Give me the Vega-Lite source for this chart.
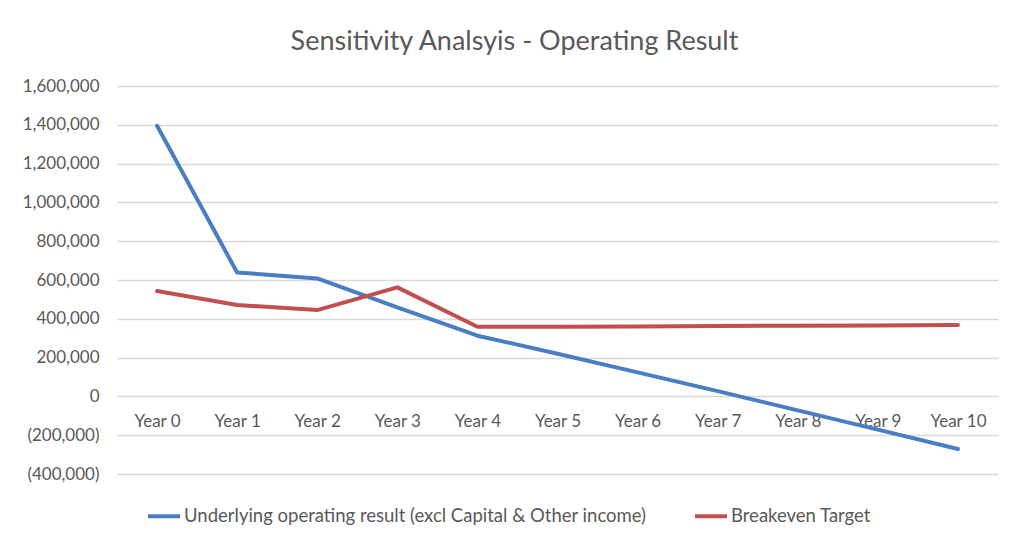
{
  "$schema": "https://vega.github.io/schema/vega-lite/v6.json",
  "width": 881,
  "height": 388,
  "autosize": "none",
  "padding": {"left": 117, "top": 86, "right": 14, "bottom": 67},
  "background": "white",
  "config": {
    "font": "Lato",
    "view": {"stroke": null}
  },
  "title": {
    "text": "Sensitivity Analsyis - Operating Result",
    "fontSize": 27,
    "font": "Lato",
    "fontWeight": "normal",
    "color": "#595959",
    "anchor": "middle",
    "dx": -43,
    "offset": 21
  },
  "data": {
    "values": [
      {"year": "Year 0", "series": "Underlying operating result (excl Capital & Other income)", "value": 1395000},
      {"year": "Year 1", "series": "Underlying operating result (excl Capital & Other income)", "value": 639000},
      {"year": "Year 2", "series": "Underlying operating result (excl Capital & Other income)", "value": 608000},
      {"year": "Year 3", "series": "Underlying operating result (excl Capital & Other income)", "value": 459000},
      {"year": "Year 4", "series": "Underlying operating result (excl Capital & Other income)", "value": 313000},
      {"year": "Year 5", "series": "Underlying operating result (excl Capital & Other income)", "value": 220000},
      {"year": "Year 6", "series": "Underlying operating result (excl Capital & Other income)", "value": 124000},
      {"year": "Year 7", "series": "Underlying operating result (excl Capital & Other income)", "value": 27000},
      {"year": "Year 8", "series": "Underlying operating result (excl Capital & Other income)", "value": -72000},
      {"year": "Year 9", "series": "Underlying operating result (excl Capital & Other income)", "value": -171000},
      {"year": "Year 10", "series": "Underlying operating result (excl Capital & Other income)", "value": -271000},
      {"year": "Year 0", "series": "Breakeven Target", "value": 543000},
      {"year": "Year 1", "series": "Breakeven Target", "value": 471000},
      {"year": "Year 2", "series": "Breakeven Target", "value": 445000},
      {"year": "Year 3", "series": "Breakeven Target", "value": 562000},
      {"year": "Year 4", "series": "Breakeven Target", "value": 359000},
      {"year": "Year 5", "series": "Breakeven Target", "value": 359000},
      {"year": "Year 6", "series": "Breakeven Target", "value": 360000},
      {"year": "Year 7", "series": "Breakeven Target", "value": 363000},
      {"year": "Year 8", "series": "Breakeven Target", "value": 364000},
      {"year": "Year 9", "series": "Breakeven Target", "value": 365000},
      {"year": "Year 10", "series": "Breakeven Target", "value": 368000}
    ]
  },
  "mark": {"type": "line", "strokeWidth": 4, "strokeCap": "round", "strokeJoin": "round"},
  "encoding": {
    "x": {
      "field": "year",
      "type": "ordinal",
      "sort": null,
      "scale": {"type": "point", "padding": 0.5},
      "axis": {
        "title": null,
        "offset": -78,
        "domain": false,
        "ticks": false,
        "grid": false,
        "labelAngle": 0,
        "labelFontSize": 17,
        "labelColor": "#595959",
        "labelPadding": 17
      }
    },
    "y": {
      "field": "value",
      "type": "quantitative",
      "scale": {"domain": [-400000, 1600000], "nice": false, "zero": false},
      "axis": {
        "title": null,
        "values": [-400000, -200000, 0, 200000, 400000, 600000, 800000, 1000000, 1200000, 1400000, 1600000],
        "labelExpr": "datum.value < 0 ? '(' + format(-datum.value, ',') + ')' : format(datum.value, ',')",
        "domain": false,
        "ticks": false,
        "grid": true,
        "gridColor": "#D9D9D9",
        "gridWidth": 1.3,
        "labelFontSize": 17,
        "labelColor": "#595959",
        "labelPadding": 18
      }
    },
    "color": {
      "field": "series",
      "type": "nominal",
      "scale": {
        "domain": ["Underlying operating result (excl Capital & Other income)", "Breakeven Target"],
        "range": ["#4A7EC2", "#C0504D"]
      },
      "legend": {
        "title": null,
        "orient": "none",
        "direction": "horizontal",
        "legendX": 29,
        "legendY": 412,
        "symbolType": "stroke",
        "symbolSize": 1024,
        "symbolStrokeWidth": 4,
        "labelFontSize": 18.5,
        "labelColor": "#595959",
        "labelOffset": 2,
        "labelLimit": 600,
        "columnPadding": 40
      }
    }
  }
}
